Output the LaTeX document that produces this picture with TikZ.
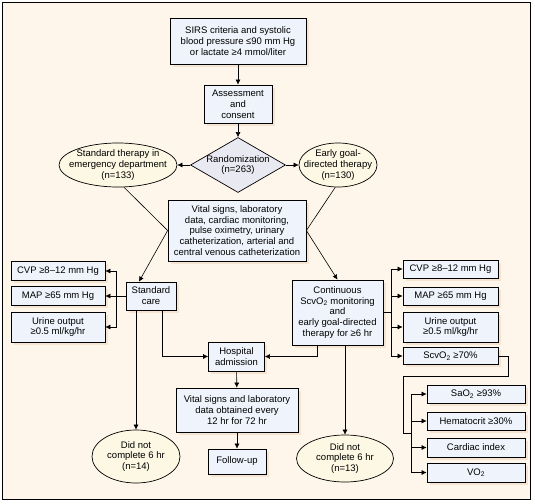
\documentclass[tikz,border=0pt]{standalone}
\usepackage{fontspec}
\setmainfont{Liberation Sans}
\usepackage{tikz}
\usetikzlibrary{shapes.geometric,shadows,arrows.meta,calc}
\definecolor{paper cream}{rgb}{0.996, 0.961, 0.922}
\definecolor{box blue}{rgb}{0.937, 0.957, 0.988}
\definecolor{oval yellow}{rgb}{0.988, 0.973, 0.890}
\definecolor{diamond grey}{rgb}{0.914, 0.914, 0.945}
\definecolor{shadow tan}{rgb}{0.965, 0.894, 0.824}

\tikzset{
	flowbox/.style = {draw, line width=0.7pt, fill=box blue, align=center, inner sep=0pt,
		drop shadow={shadow xshift=2.5pt, shadow yshift=-2.5pt, fill=shadow tan, opacity=1}},
	oval/.style = {ellipse, draw, line width=0.7pt, fill=oval yellow, align=center, inner sep=-8pt},
	decision/.style = {diamond, draw, line width=0.7pt, fill=diamond grey, align=center, inner sep=-10pt,
		minimum width=95, minimum height=55},
	arr/.style = {-{Latex[length=5pt,width=5pt]}}
}

\begin{document}
\begin{tikzpicture}[x=1pt, y=-1pt, line width=0.6pt,
		every node/.style={font=\fontsize{9.5}{10.8}\selectfont}]
			% frame
			\useasboundingbox (0,0) rectangle (535,503);
			\draw[fill=paper cream, line width=0.8pt] (2.5,2.5) rectangle (530.5,499.5);
			% part for screening and randomization
			\node[flowbox, minimum width=136, minimum height=46] (sirs) at (238,41)
				{SIRS criteria and systolic\\blood pressure ≤90 mm Hg\\or lactate ≥4 mmol/liter};
			\node[flowbox, minimum width=68, minimum height=38] (assess) at (238,104)
				{Assessment\\and\\consent};
			\node[decision] (rand) at (238,165) {Randomization\\(n=263)};
			\node[oval, minimum width=118, minimum height=44] (stdther) at (118,165)
				{Standard therapy in\\emergency department\\(n=133)};
			\node[oval, minimum width=78, minimum height=44] (egdt) at (338,165)
				{Early goal-\\directed therapy\\(n=130)};
			\node[flowbox, minimum width=138, minimum height=61] (vital) at (237,230.5)
				{Vital signs, laboratory\\data, cardiac monitoring,\\pulse oximetry, urinary\\catheterization, arterial and\\central venous catheterization};
			% part for standard care
			\node[flowbox, minimum width=50, minimum height=28] (stdcare) at (151,296) {Standard\\care};
			\node[flowbox, minimum width=94, minimum height=19] (cvpL) at (58,271) {CVP ≥8–12 mm Hg};
			\node[flowbox, minimum width=94, minimum height=19] (mapL) at (58,296) {MAP ≥65 mm Hg};
			\node[flowbox, minimum width=94, minimum height=30] (urineL) at (58,327) {Urine output\\≥0.5 ml/kg/hr};
			\node[oval, minimum width=88, minimum height=53] (dnc1) at (136,456.5)
				{Did not\\complete 6 hr\\(n=14)};
			% part for early goal-directed therapy
			\node[flowbox, minimum width=91, minimum height=65] (cont) at (337.5,312.5)
				{Continuous\\ScvO\textsubscript{2} monitoring\\and\\early goal-directed\\therapy for ≥6 hr};
			\node[flowbox, minimum width=95, minimum height=18] (cvpR) at (450.5,269) {CVP ≥8–12 mm Hg};
			\node[flowbox, minimum width=95, minimum height=18] (mapR) at (450.5,296) {MAP ≥65 mm Hg};
			\node[flowbox, minimum width=95, minimum height=30] (urineR) at (450.5,327) {Urine output\\≥0.5 ml/kg/hr};
			\node[flowbox, minimum width=95, minimum height=17] (scvoR) at (450.5,356) {ScvO\textsubscript{2} ≥70\%};
			\node[flowbox, minimum width=98, minimum height=18] (sao2) at (476,394) {SaO\textsubscript{2} ≥93\%};
			\node[flowbox, minimum width=98, minimum height=18] (hct) at (476,421) {Hematocrit ≥30\%};
			\node[flowbox, minimum width=98, minimum height=19] (ci) at (476,447.5) {Cardiac index};
			\node[flowbox, minimum width=98, minimum height=19] (vo2) at (476,472.5) {VO\textsubscript{2}};
			\node[oval, minimum width=97, minimum height=47] (dnc2) at (345,458.5)
				{Did not\\complete 6 hr\\(n=13)};
			% part for admission
			\node[flowbox, minimum width=56, minimum height=29] (hosp) at (236.5,356.5) {Hospital\\admission};
			\node[flowbox, minimum width=122, minimum height=44] (vslab) at (237,410)
				{Vital signs and laboratory\\data obtained every\\12 hr for 72 hr};
			\node[flowbox, minimum width=58, minimum height=25] (follow) at (237,461.5) {Follow-up};
			% connectors
			\draw[arr] (sirs) -- (assess);
			\draw[arr] (assess) -- (rand);
			\draw[arr] (rand.west) -- (stdther.east);
			\draw[arr] (rand.east) -- (egdt.west);
			\draw (stdther.-75) -- (vital.west);
			\draw[arr] (vital.west) -- (stdcare.130);
			\draw (egdt.-97) -- (vital.east);
			\draw[arr] (vital.east) -- (cont.north);
			% standard care branches
			\draw (stdcare.west) -- ++(-9,0) coordinate (lfork);
			\draw[arr] (lfork) |- (cvpL.east);
			\draw[arr] (lfork) -- (mapL.east);
			\draw[arr] (lfork) |- (urineL.east);
			\draw[arr] (dnc1.north |- stdcare.south) -- (dnc1.north);
			\draw[arr] ($(stdcare.south)+(11,0)$) |- (hosp.west);
			% goal-directed branches
			\draw (cont.east) -- ++(8,0) coordinate (rfork);
			\foreach \n in {cvpR,mapR,urineR,scvoR}
				\draw[arr] (rfork) |- (\n.west);
			\draw[arr] (dnc2.north |- cont.south) -- (dnc2.north);
			\draw[arr] ($(cont.south)+(-20.5,0)$) |- (hosp.east);
			\coordinate (sfork) at ($(sao2.west)!0.5!(vo2.west)+(-15,0)$);
			\draw (scvoR.east) -- ++(10,0) |- ++(-105,20) |- (sfork);
			\foreach \n in {sao2,hct,ci,vo2}
				\draw[arr] (sfork) |- (\n.west);
			% after admission
			\draw[arr] (hosp) -- (vslab);
			\draw[arr] (vslab) -- (follow);
		\end{tikzpicture}
\end{document}
